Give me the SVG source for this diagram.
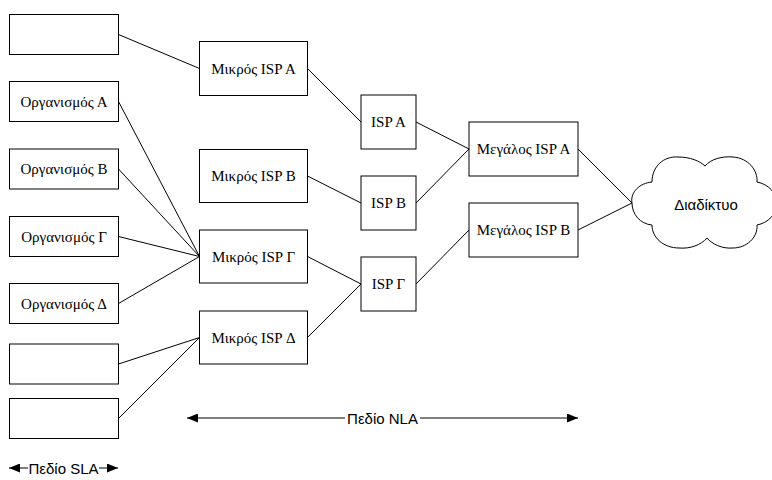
<svg xmlns="http://www.w3.org/2000/svg" width="772" height="480" viewBox="0 0 772 480">
  <style>
    .box { fill: #fff; stroke: #000; stroke-width: 1; }
    .lbl { font-family: "Liberation Serif", "Times New Roman", serif; font-size: 15px; fill: #000; text-anchor: middle; dominant-baseline: central; }
    .sans { font-family: "Liberation Sans", Arial, sans-serif; font-size: 15px; fill: #000; text-anchor: middle; dominant-baseline: central; }
    .link { stroke: #000; stroke-width: 1; fill: none; }
  </style>
  <defs>
    <marker id="head" viewBox="0 0 11 9" refX="11" refY="4.5" markerWidth="11" markerHeight="9" markerUnits="userSpaceOnUse" orient="auto-start-reverse">
      <path d="M0,0 L11,4.5 L0,9 Z" fill="#000"/>
    </marker>
  </defs>
  <rect width="772" height="480" fill="#fff"/>

  <!-- connectors -->
  <g id="connectors" class="link">
    <line x1="118.5" y1="34.5" x2="199.5" y2="68.5"/>
    <line x1="118.5" y1="101.5" x2="199.5" y2="256.5"/>
    <line x1="118.5" y1="169" x2="199.5" y2="256.5"/>
    <line x1="118.5" y1="236.5" x2="199.5" y2="256.5"/>
    <line x1="118.5" y1="303.5" x2="199.5" y2="256.5"/>
    <line x1="118.5" y1="364" x2="199.5" y2="337.5"/>
    <line x1="118.5" y1="418.5" x2="199.5" y2="337.5"/>
    <line x1="307.5" y1="68.5" x2="361" y2="122"/>
    <line x1="307.5" y1="176" x2="361" y2="203"/>
    <line x1="307.5" y1="256.5" x2="361" y2="284"/>
    <line x1="307.5" y1="337.5" x2="361" y2="284"/>
    <line x1="416" y1="122" x2="469" y2="149"/>
    <line x1="416" y1="203" x2="469" y2="149"/>
    <line x1="416" y1="284" x2="469" y2="230"/>
    <line x1="578" y1="149" x2="632" y2="203"/>
    <line x1="578" y1="230" x2="632" y2="203"/>
  </g>

  <!-- end sites -->
  <g id="site1"><rect class="box" x="9.5" y="14.5" width="109" height="40"/></g>
  <g id="orgA"><rect class="box" x="9.5" y="81.5" width="109" height="40"/><text class="lbl" x="64" y="101.5">Οργανισμός Α</text></g>
  <g id="orgB"><rect class="box" x="9.5" y="149" width="109" height="40"/><text class="lbl" x="64" y="169">Οργανισμός Β</text></g>
  <g id="orgG"><rect class="box" x="9.5" y="216.5" width="109" height="40"/><text class="lbl" x="64" y="236.5">Οργανισμός Γ</text></g>
  <g id="orgD"><rect class="box" x="9.5" y="283.5" width="109" height="40"/><text class="lbl" x="64" y="303.5">Οργανισμός Δ</text></g>
  <g id="site6"><rect class="box" x="9.5" y="344" width="109" height="40"/></g>
  <g id="site7"><rect class="box" x="9.5" y="398.5" width="109" height="40"/></g>

  <!-- small ISPs -->
  <g id="smallA"><rect class="box" x="199.5" y="41.5" width="108" height="54"/><text class="lbl" x="253.5" y="68.5">Μικρός ISP A</text></g>
  <g id="smallB"><rect class="box" x="199.5" y="149.5" width="108" height="53"/><text class="lbl" x="253.5" y="176">Μικρός ISP B</text></g>
  <g id="smallG"><rect class="box" x="199.5" y="230" width="108" height="53"/><text class="lbl" x="253.5" y="256.5">Μικρός ISP Γ</text></g>
  <g id="smallD"><rect class="box" x="199.5" y="311" width="108" height="53"/><text class="lbl" x="253.5" y="337.5">Μικρός ISP Δ</text></g>

  <!-- ISPs -->
  <g id="ispA"><rect class="box" x="361" y="95" width="55" height="54"/><text class="lbl" x="388.5" y="122">ISP A</text></g>
  <g id="ispB"><rect class="box" x="361" y="176" width="55" height="54"/><text class="lbl" x="388.5" y="203">ISP B</text></g>
  <g id="ispG"><rect class="box" x="361" y="257" width="55" height="54"/><text class="lbl" x="388.5" y="284">ISP Γ</text></g>

  <!-- large ISPs -->
  <g id="largeA"><rect class="box" x="469" y="122" width="109" height="54"/><text class="lbl" x="523.5" y="149">Μεγάλος ISP A</text></g>
  <g id="largeB"><rect class="box" x="469" y="203" width="109" height="54"/><text class="lbl" x="523.5" y="230">Μεγάλος ISP B</text></g>

  <!-- internet cloud -->
  <g id="internet">
    <path class="box" d="M632,203
      C630,192 640,183 652,182
      C652,166 664,156 678,157
      C690,157 700,161 705,166
      C711,159 722,156 733,157
      C748,158 758,170 757,182
      C768,184 777,193 777,203
      C777,214 768,223 757,225
      C758,238 746,248 733,248
      C722,249 712,244 707,238
      C701,245 690,249 679,248
      C664,248 652,238 652,225
      C640,224 632,214 632,203 Z"/>
    <text class="sans" x="706" y="204">Διαδίκτυο</text>
  </g>

  <!-- NLA span -->
  <g id="nla">
    <line class="link" x1="345" y1="418" x2="187" y2="418" marker-end="url(#head)"/>
    <line class="link" x1="420" y1="418" x2="578" y2="418" marker-end="url(#head)"/>
    <text class="sans" x="382.5" y="418">Πεδίο NLA</text>
  </g>

  <!-- SLA span -->
  <g id="sla">
    <line class="link" x1="28" y1="468" x2="9" y2="468" marker-end="url(#head)"/>
    <line class="link" x1="99" y1="468" x2="118" y2="468" marker-end="url(#head)"/>
    <text class="sans" x="63.5" y="468">Πεδίο SLA</text>
  </g>
</svg>
